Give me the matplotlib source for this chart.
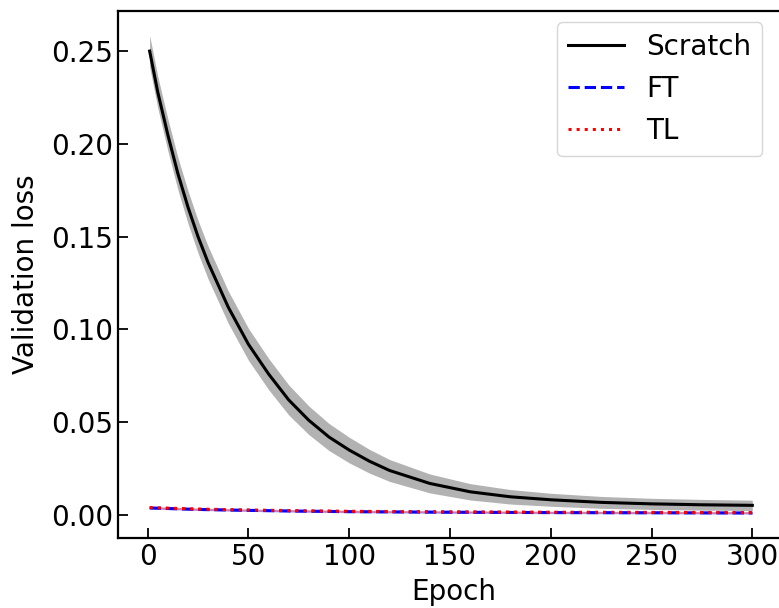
import numpy as np
import matplotlib
matplotlib.use("Agg")
import matplotlib.pyplot as plt

# values
epochs = [1, 5, 10, 15, 20, 25, 30, 40, 50, 60, 70, 80, 90, 100, 110, 120, 140, 160, 180,
          200, 225, 250, 275, 300]
scratch_mean = [0.250, 0.228, 0.205, 0.184, 0.166, 0.150, 0.136, 0.112, 0.092, 0.076, 0.062,
                0.051, 0.042, 0.035, 0.029, 0.024, 0.017, 0.0125, 0.0098, 0.0082, 0.0068,
                0.0060, 0.0055, 0.0052]
scratch_std = [0.0085, 0.0085, 0.0086, 0.0087, 0.0088, 0.0088, 0.0088, 0.0087, 0.0086, 0.0084,
               0.0081, 0.0077, 0.0073, 0.0069, 0.0064, 0.0059, 0.0051, 0.0044, 0.0039, 0.0035,
               0.0032, 0.0030, 0.0029, 0.0028]

ft_epochs = [1, 25, 50, 75, 100, 150, 200, 250, 300]
ft_mean = [0.0038, 0.0030, 0.0025, 0.0021, 0.0018, 0.0015, 0.0013, 0.0012, 0.0011]
ft_std = [0.0006, 0.0006, 0.0006, 0.0006, 0.0006, 0.0006, 0.0006, 0.0006, 0.0006]
tl_mean = [0.0040, 0.0032, 0.0027, 0.0023, 0.0020, 0.0017, 0.0015, 0.0014, 0.0013]
tl_std = [0.0006, 0.0006, 0.0006, 0.0006, 0.0006, 0.0006, 0.0006, 0.0006, 0.0006]

e = np.array(epochs)
sm = np.array(scratch_mean)
ss = np.array(scratch_std)
fe = np.array(ft_epochs)
fm, fs = np.array(ft_mean), np.array(ft_std)
tm, ts = np.array(tl_mean), np.array(tl_std)

plt.rcParams['font.size'] = 20
fig = plt.figure(figsize=(7.79, 6.08), dpi=100)
ax = fig.add_axes([118/779, 1 - 538/608, 672/779, 527/608])

ax.fill_between(e, sm - ss, sm + ss, color='gray', alpha=0.6, lw=0)
ax.fill_between(fe, fm - fs, fm + fs, color='blue', alpha=0.3, lw=0)
ax.fill_between(fe, tm - ts, tm + ts, color='red', alpha=0.3, lw=0)
ax.plot(e, sm, color='black', lw=2.2, label='Scratch')
ax.plot(fe, fm, color='blue', ls='--', lw=2.2, label='FT')
ax.plot(fe, tm, color='red', ls=':', lw=2.2, label='TL')

ax.set_xlim(-14.7, 318.7)
ax.set_ylim(-0.0124, 0.2716)
ax.set_xticks([0, 50, 100, 150, 200, 250, 300])
ax.set_yticks([0.0, 0.05, 0.10, 0.15, 0.20, 0.25])
ax.tick_params(direction='in', length=7, width=1.3)
for s in ax.spines.values():
    s.set_linewidth(1.6)
ax.set_xlabel('Epoch', labelpad=5)
ax.set_ylabel('Validation loss', labelpad=8)
ax.legend(loc='upper right', bbox_to_anchor=(0.975, 1.0), borderaxespad=0.4)

fig.savefig('out.png', dpi=100)
